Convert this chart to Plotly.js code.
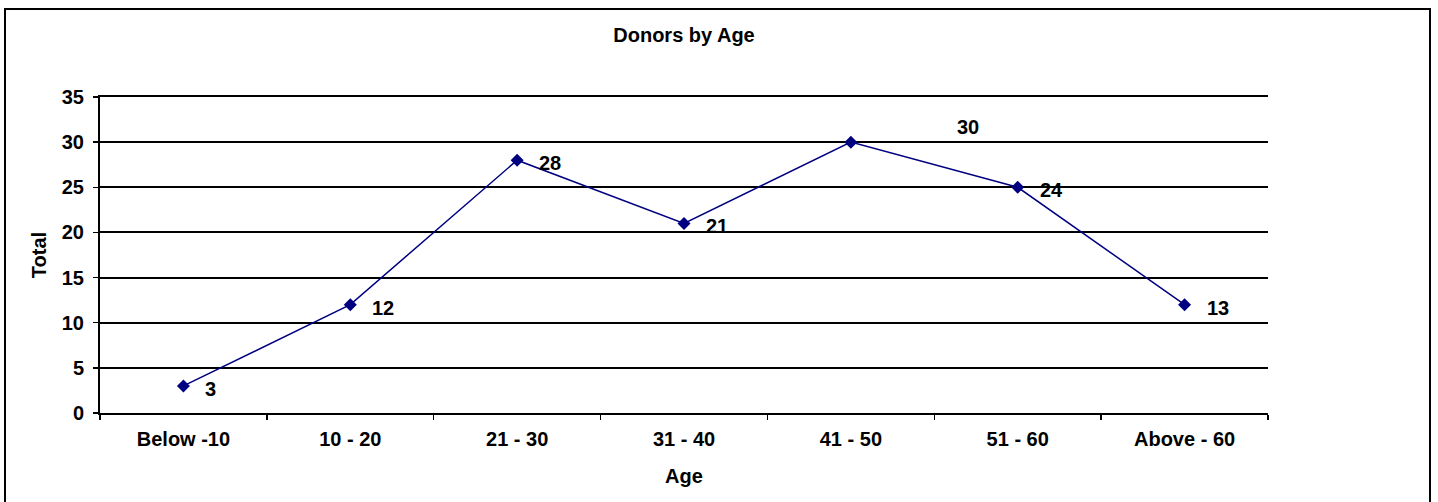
<!DOCTYPE html>
<html>
<head>
<meta charset="utf-8">
<script src="https://cdn.plot.ly/plotly-3.0.1.min.js"></script>
<style>
html,body{margin:0;padding:0;background:#fff;}
#chart{width:1438px;height:502px;}
</style>
</head>
<body>
<div id="chart"></div>
<script>
const categories = ["Below -10", "10 - 20", "21 - 30", "31 - 40", "41 - 50", "51 - 60", "Above - 60"];
const totals = [3, 12, 28, 21, 30, 25, 12];
const labels = ["3", "12", "28", "21", "30", "24", "13"];
const yTicks = [0, 5, 10, 15, 20, 25, 30, 35];

const font = "Liberation Sans, Arial, sans-serif";

const trace = {
  x: categories,
  y: totals,
  type: "scatter",
  mode: "lines+markers",
  line: {color: "#000080", width: 1.5},
  marker: {symbol: "diamond", size: 10, color: "#000080"},
  hoverinfo: "skip"
};

const annotations = labels.map((t, i) => ({
  x: categories[i],
  y: totals[i],
  xref: "x",
  yref: "y",
  text: "<b>" + t + "</b>",
  showarrow: false,
  xanchor: "left",
  yanchor: "middle",
  xshift: i === 4 ? 104 : 20,
  yshift: i === 4 ? 15 : -3,
  font: {family: font, size: 20, color: "#000"}
}));

const layout = {
  width: 1438,
  height: 502,
  margin: {l: 100, r: 170, t: 97, b: 89},
  paper_bgcolor: "#fff",
  plot_bgcolor: "#fff",
  showlegend: false,
  title: {
    text: "<b>Donors by Age</b>",
    font: {family: font, size: 20, color: "#000"},
    x: 0.5, xref: "paper", xanchor: "center",
    y: 1 - 35 / 502, yref: "container", yanchor: "middle"
  },
  xaxis: {
    type: "category",
    range: [-0.5, categories.length - 0.5],
    showgrid: false,
    showline: true, mirror: true, linecolor: "#000", linewidth: 2,
    ticks: "outside", tickson: "boundaries", ticklen: 5, tickcolor: "#000", tickwidth: 1.5,
    tickfont: {family: font, size: 20, color: "#000", weight: "bold"},
    ticklabelstandoff: 7,
    title: {text: "<b>Age</b>", font: {family: font, size: 20, color: "#000"}, standoff: 20},
    zeroline: false, fixedrange: true
  },
  yaxis: {
    range: [0, 35],
    tickvals: yTicks,
    ticktext: yTicks.map(v => "<b>" + v + "</b>"),
    showgrid: true, gridcolor: "#000", gridwidth: 2,
    showline: true, linecolor: "#000", linewidth: 2,
    ticks: "outside", ticklen: 5, tickcolor: "#000", tickwidth: 1.5,
    tickfont: {family: font, size: 20, color: "#000"},
    ticklabelstandoff: 5,
    title: {text: "<b>Total</b>", font: {family: font, size: 20, color: "#000"}, standoff: 10},
    zeroline: false, fixedrange: true
  },
  shapes: [{
    type: "rect", xref: "paper", yref: "paper",
    x0: (5 - 100) / 1168, x1: (1430 - 100) / 1168,
    y0: (413 - 504) / 316, y1: (413 - 9) / 316,
    line: {color: "#000", width: 2}, fillcolor: "rgba(0,0,0,0)", layer: "below"
  }],
  annotations: annotations
};

Plotly.newPlot("chart", [trace], layout, {displayModeBar: false, staticPlot: true});
</script>
</body>
</html>
